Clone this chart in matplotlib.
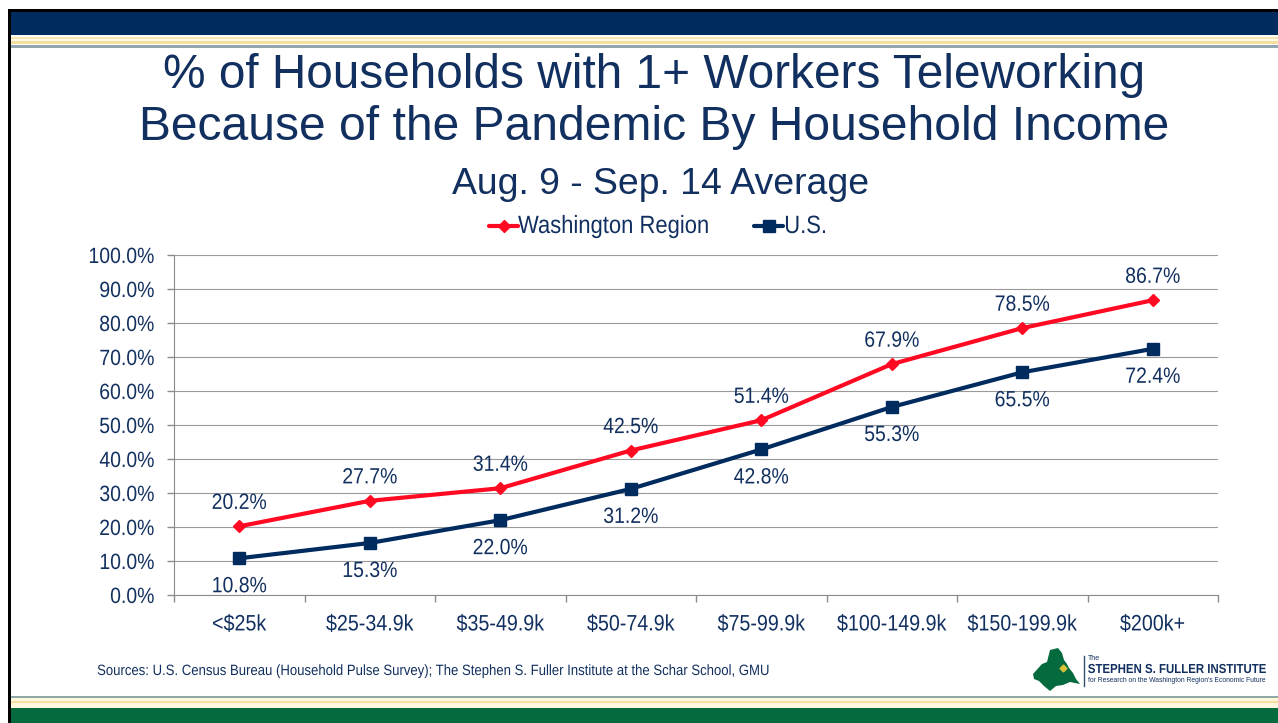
import matplotlib
matplotlib.use("Agg")
import matplotlib.pyplot as plt
from matplotlib.patches import Rectangle, Polygon
from matplotlib.lines import Line2D
from matplotlib.patheffects import AbstractPathEffect
from matplotlib.transforms import Affine2D

categories = ["<$25k", "$25-34.9k", "$35-49.9k", "$50-74.9k", "$75-99.9k",
              "$100-149.9k", "$150-199.9k", "$200k+"]
washington = [20.2, 27.7, 31.4, 42.5, 51.4, 67.9, 78.5, 86.7]
us = [10.8, 15.3, 22.0, 31.2, 42.8, 55.3, 65.5, 72.4]
y_ticks = [0, 10, 20, 30, 40, 50, 60, 70, 80, 90, 100]

NAVY = "#002B5F"
TEXT = "#12305F"
RED = "#FF0A22"
GREEN = "#066A3F"
plt.rcParams["font.family"] = ["Liberation Sans", "DejaVu Sans"]

W, H = 1278, 723
fig = plt.figure(figsize=(W / 100, H / 100), dpi=100, facecolor="white")


class Squeeze(AbstractPathEffect):
    """Draw text narrower than its font, as the reference's condensed text."""

    def __init__(self, sx, anchor="center"):
        super().__init__()
        self.sx = sx
        self.anchor = anchor

    def draw_path(self, renderer, gc, tpath, affine, rgbFace=None):
        ext = tpath.get_extents()
        cx = {"left": ext.x0, "center": (ext.x0 + ext.x1) / 2, "right": ext.x1}[self.anchor]
        t = Affine2D().translate(-cx, 0).scale(self.sx, 1).translate(cx, 0) + affine
        renderer.draw_path(gc, tpath, t, rgbFace)


SX = 0.88


def px_text(x, y, s, size, color=TEXT, ha="center", sx=None, **kw):
    t = fig.text(x / W, 1 - y / H, s, fontsize=size, color=color, ha=ha, va="center", **kw)
    if sx:
        t.set_path_effects([Squeeze(sx, ha)])
    return t


def band(x0, y0, x1, y1, color):
    fig.add_artist(Rectangle((x0 / W, 1 - y1 / H), (x1 - x0) / W, (y1 - y0) / H,
                             transform=fig.transFigure, facecolor=color, edgecolor="none"))


band(10, 12, W, 35, "#002B5F")
band(10, 35, W, 37, "#FFFFFF")
band(10, 37, W, 39, "#F6E7B0")
band(10, 39, W, 41, "#FFFBE8")
band(10, 41, W, 44, "#F6DF9E")
band(10, 44, W, 45, "#FFFFFF")
band(10, 45, W, 48, "#93A5AE")
band(10, 696, W, 698, "#8FA8A6")
band(10, 698, W, 701, "#FFF8DC")
band(10, 701, W, 703, "#F6DF9E")
band(10, 703, W, 708, "#FFF8DC")
band(10, 708, W, H, GREEN)
band(8, 9, W, 12, "#000000")
band(8, 9, 11, H, "#000000")

ax = fig.add_axes([174 / W, 1 - 595 / H, (1218 - 174) / W, (595 - 255) / H])
ax.set_facecolor("none")
xs = list(range(len(categories)))
ax.plot(xs, washington, color=RED, lw=3.0, marker="D", ms=6.5, solid_capstyle="round", zorder=3)
ax.plot(xs, us, color=NAVY, lw=3.0, marker="s", ms=9, solid_capstyle="round", zorder=3)
ax.set_xlim(-0.5, len(categories) - 0.5)
ax.set_ylim(0, 100)
ax.set_yticks(y_ticks)
ax.set_yticklabels([f"{v:.1f}%" for v in y_ticks], fontsize=15.9, color=TEXT)
ax.set_xticks([i - 0.5 for i in range(len(categories) + 1)])
ax.set_xticklabels([])
ax.set_xticks(xs, minor=True)
ax.set_xticklabels(categories, minor=True, fontsize=16.1, color=TEXT)
ax.tick_params(axis="x", which="major", length=5, color="#8C8C8C", width=1)
ax.tick_params(axis="x", which="minor", length=0, pad=14)
ax.tick_params(axis="y", length=5, color="#8C8C8C", width=1, pad=9)
for lab in ax.get_yticklabels():
    lab.set_path_effects([Squeeze(SX, "right")])
for lab in ax.get_xticklabels(minor=True):
    lab.set_path_effects([Squeeze(SX, "center")])
ax.grid(axis="y", color="#9A9A9A", lw=0.8)
ax.set_axisbelow(True)
for side in ("top", "right"):
    ax.spines[side].set_visible(False)
for side in ("left", "bottom"):
    ax.spines[side].set_color("#8C8C8C")

for x, v in zip(xs, washington):
    ax.annotate(f"{v:.1f}%", (x, v), xytext=(0, 16.5), textcoords="offset points",
                ha="center", va="center", fontsize=15.9, color=TEXT,
                path_effects=[Squeeze(SX, "center")])
for x, v in zip(xs, us):
    ax.annotate(f"{v:.1f}%", (x, v), xytext=(0, -20.5), textcoords="offset points",
                ha="center", va="center", fontsize=15.9, color=TEXT,
                path_effects=[Squeeze(SX, "center")])

px_text(654.5, 75, "% of Households with 1+ Workers Teleworking", 34.4)
px_text(654.5, 128, "Because of the Pandemic By Household Income", 34.6)
px_text(660.5, 184, "Aug. 9 - Sep. 14 Average", 26.9)

fig.add_artist(Line2D([489 / W, 518 / W], [1 - 226 / H] * 2, color=RED, lw=3, solid_capstyle="round"))
fig.add_artist(Line2D([503.5 / W], [1 - 226 / H], color=RED, marker="D", ms=6))
fig.add_artist(Line2D([754 / W, 783 / W], [1 - 226 / H] * 2, color=NAVY, lw=3, solid_capstyle="round"))
fig.add_artist(Line2D([768.5 / W], [1 - 226 / H], color=NAVY, marker="s", ms=8))
px_text(518, 226, "Washington Region", 18, ha="left", sx=SX)
px_text(784, 226, "U.S.", 18, ha="left", sx=SX)

px_text(97, 671, "Sources: U.S. Census Bureau (Household Pulse Survey); The Stephen S. Fuller Institute at the Schar School, GMU",
        10.75, ha="left", sx=SX)

outline = [(1033, 674), (1042, 664), (1047, 662), (1050, 650), (1058, 648), (1062, 653), (1064, 660),
           (1067, 664), (1069, 668), (1073, 673), (1076, 679), (1080, 684), (1070, 682), (1063, 685),
           (1056, 686), (1050, 691), (1044, 686), (1039, 681), (1034, 679)]
fig.add_artist(Polygon([(x / W, 1 - y / H) for x, y in outline], closed=True,
                       transform=fig.transFigure, facecolor=GREEN, edgecolor="none"))
fig.add_artist(Line2D([1063 / W], [1 - 668 / H], color="#D8C23A", marker="D", ms=3.5))
fig.add_artist(Line2D([1083.5 / W] * 2, [1 - 656 / H, 1 - 686 / H], color="#33506F", lw=1))
px_text(1088, 659, "The", 5, ha="left")
px_text(1176.5, 670, "STEPHEN S. FULLER INSTITUTE", 9.4, ha="center", fontweight="bold", sx=0.876)
px_text(1088, 681, "for Research on the Washington Region's Economic Future", 4.9, ha="left")

fig.savefig("out.png", dpi=100, facecolor="white")
